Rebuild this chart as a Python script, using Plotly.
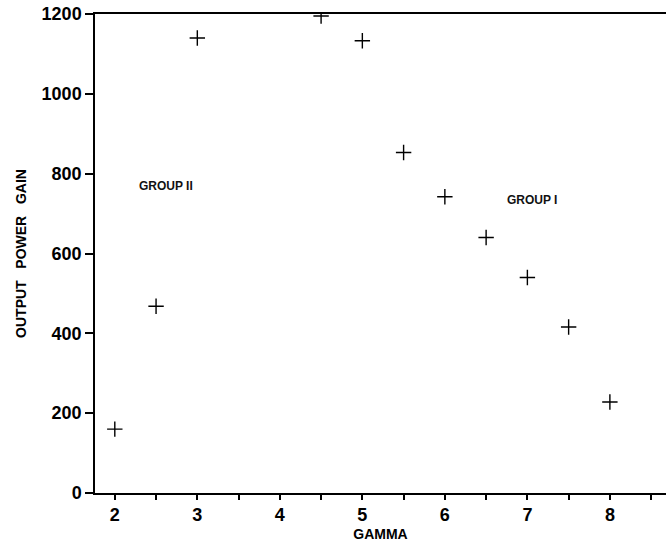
import plotly.graph_objects as go

gamma = [2.0, 2.5, 3.0, 4.5, 5.0, 5.5, 6.0, 6.5, 7.0, 7.5, 8.0]
gain = [160, 468, 1140, 1195, 1133, 853, 742, 640, 540, 416, 228]

x_tickvals = [2, 2.5, 3, 3.5, 4, 4.5, 5, 5.5, 6, 6.5, 7, 7.5, 8, 8.5]
x_ticktext = ["2", "", "3", "", "4", "", "5", "", "6", "", "7", "", "8", ""]
y_tickvals = [0, 200, 400, 600, 800, 1000, 1200]

labels = [("<b>GROUP II</b>", 2.62, 768), ("<b>GROUP I</b>", 7.06, 733)]

fig = go.Figure()
fig.add_trace(go.Scatter(
    x=gamma, y=gain, mode="markers",
    marker=dict(symbol="cross-thin", size=11, line=dict(width=1.4, color="black"), color="black"),
    showlegend=False,
))

for txt, xx, yy in labels:
    fig.add_annotation(x=xx, y=yy, text=txt, showarrow=False,
                       font=dict(family="Liberation Sans", size=12, color="#111"),
                       xanchor="center", yanchor="middle")

fig.update_layout(
    width=666, height=546,
    margin=dict(l=95, r=0, t=14, b=53),
    paper_bgcolor="white", plot_bgcolor="white",
    font=dict(family="Liberation Sans", color="black"),
    xaxis=dict(
        range=[1.76, 8.68], tickvals=x_tickvals, ticktext=x_ticktext,
        ticks="outside", ticklen=5, tickwidth=1.5, tickcolor="black",
        showline=True, linecolor="black", linewidth=1.5, mirror=True,
        showgrid=False, zeroline=False,
        tickfont=dict(family="Liberation Sans", size=18, color="black", weight="bold"),
        title=dict(text="<b>GAMMA</b>", font=dict(size=14, family="Liberation Sans"), standoff=5),
    ),
    yaxis=dict(
        range=[0, 1200], tickvals=y_tickvals,
        ticks="outside", ticklen=8, tickwidth=1.5, tickcolor="black",
        showline=True, linecolor="black", linewidth=1.5, mirror=False,
        showgrid=False, zeroline=False,
        tickfont=dict(family="Liberation Sans", size=18, color="black", weight="bold"),
        title=dict(text="<b>OUTPUT   POWER   GAIN</b>", font=dict(size=14, family="Liberation Sans"), standoff=12),
    ),
)

fig.write_html("out.html")
